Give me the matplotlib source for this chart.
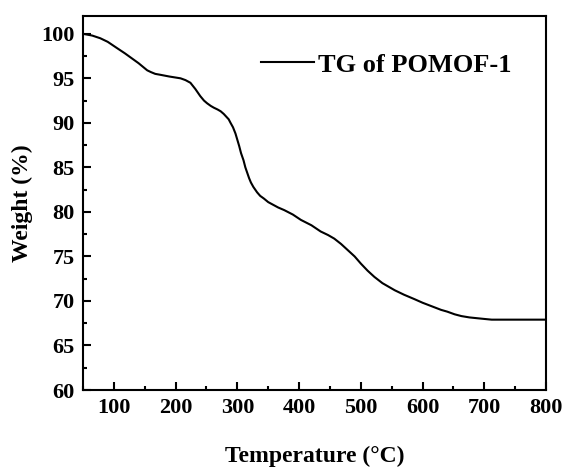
import numpy as np
import matplotlib
matplotlib.use("Agg")
import matplotlib.pyplot as plt
from matplotlib.ticker import MultipleLocator

temperature = [50, 65, 78, 90, 105, 118, 132, 140, 147, 154, 160, 167, 175, 190, 208, 216, 224, 232, 240,
               246, 251, 257, 262, 268, 273, 278, 282, 286, 289, 293, 297, 300, 303, 306, 310, 313, 316,
               319, 322, 326, 332, 337, 343, 350, 358, 366, 376,
               390, 403, 420, 435, 447, 457, 468, 479, 490, 500, 511, 522, 535, 545, 555, 570, 587,
               600, 615, 630, 640, 652, 663, 676, 690, 700, 712, 740, 770, 800]
weight = [100.0, 99.8, 99.5, 99.1, 98.4, 97.8, 97.1, 96.7, 96.3, 95.9, 95.7, 95.5, 95.4, 95.2, 95.0, 94.8, 94.5, 93.8, 93.0,
          92.5, 92.2, 91.9, 91.7, 91.5, 91.3, 91.0, 90.7, 90.4, 90.0, 89.5, 88.8, 88.1, 87.4, 86.6, 85.8, 85.0, 84.4,
          83.8, 83.3, 82.8, 82.2, 81.8, 81.5, 81.1, 80.8, 80.5, 80.2,
          79.7, 79.1, 78.5, 77.8, 77.4, 77.0, 76.4, 75.7, 75.0, 74.2, 73.4, 72.7, 72.0, 71.6, 71.2, 70.7, 70.2,
          69.8, 69.4, 69.0, 68.8, 68.5, 68.3, 68.15, 68.05, 67.98, 67.9, 67.9, 67.9, 67.9]
series_label = "TG of POMOF-1"
x_label = "Temperature (°C)"
y_label = "Weight (%)"

plt.rcParams['font.family'] = ['Liberation Serif', 'DejaVu Serif']
plt.rcParams['font.weight'] = 'bold'

fig = plt.figure(figsize=(5.66, 4.70), dpi=100)
ax = fig.add_axes([0.1466, 0.1702, 0.8181, 0.7958])

ax.plot(temperature, weight, color='black', linewidth=1.5, label=series_label)

ax.set_xlim(50, 800)
ax.set_ylim(60, 102)
ax.xaxis.set_major_locator(MultipleLocator(100))
ax.xaxis.set_minor_locator(MultipleLocator(50))
ax.yaxis.set_major_locator(MultipleLocator(5))
ax.yaxis.set_minor_locator(MultipleLocator(2.5))
ax.tick_params(which='both', direction='in', width=1.5)
ax.tick_params(which='major', length=6, labelsize=16, pad=6)
ax.tick_params(which='minor', length=3)
for lab in ax.get_xticklabels() + ax.get_yticklabels():
    lab.set_fontweight('bold')
for sp in ax.spines.values():
    sp.set_linewidth(1.5)

ax.set_xlabel(x_label, fontsize=17, fontweight='bold', labelpad=20)
ax.set_ylabel(y_label, fontsize=17, fontweight='bold', labelpad=6)

leg = ax.legend(loc='upper right', bbox_to_anchor=(0.965, 0.95), frameon=False,
                prop={'size': 19, 'weight': 'bold'}, handlelength=2.0, handletextpad=0.15,
                borderaxespad=0.3)

fig.savefig("out.png", dpi=100)
